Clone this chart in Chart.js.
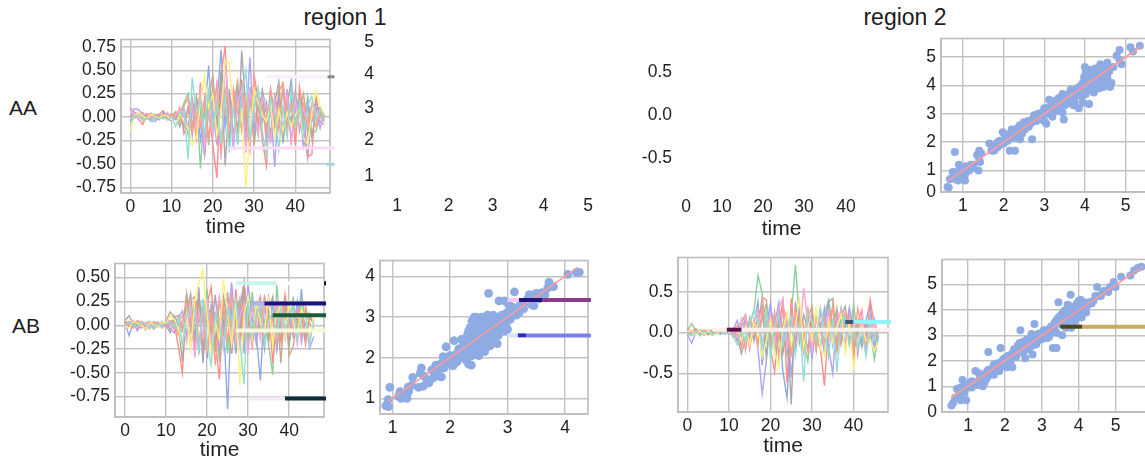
<!DOCTYPE html>
<html>
<head>
<meta charset="utf-8">
<script src="https://cdn.jsdelivr.net/npm/chart.js@4/dist/chart.umd.min.js"></script>
<style>
html, body { margin: 0; padding: 0; background: #fff; width: 1145px; height: 459px; overflow: hidden; }
canvas { position: absolute; }
.lbl { position: absolute; font-family: "Liberation Sans", Arial, sans-serif; color: #1c1c1c; transform: translate(-50%, -50%); white-space: nowrap; }
</style>
</head>
<body>
<div class="lbl" style="left:345px;top:17px;font-size:23px">region 1</div>
<div class="lbl" style="left:905px;top:17px;font-size:23px">region 2</div>
<div class="lbl" style="left:23px;top:108px;font-size:21px">AA</div>
<div class="lbl" style="left:26px;top:326px;font-size:21px">AB</div>
<script>
const times = [0,1,2,3,4,5,6,7,8,9,10,11,12,13,14,15,16,17,18,19,20,21,22,23,24,25,26,27,28,29,30,31,32,33,34,35,36,37,38,39,40,41,42,43,44,45,46,47];
const lineColors = ['#8fa8e8','#8ccf9a','#ff8d88','#b0a2fa','#a8a8a8','#c8a88c','#f8a8d8','#ff9f8a','#fff07a','#8fdfd6'];

// AA, region 1
const aa1 = [
 [.02,.05,.03,-.01,.02,-.02,.01,.00,.02,-.01,.01,-.03, .02,-.08,.10,-.12,.18,-.25,.05,.55,-.20,.15,.72,-.10, .30,-.22,.28,.10,-.18,.32,-.12,.20,-.05,.15,-.28,.22, .05,-.15,.12,.40,-.10,.18,-.12,-.44,.10,.15,.05,-.02],
 [.00,.03,.02,.00,-.02,.04,.01,.03,-.01,.02,-.02,.05, .02,.15,.25,-.10,.20,-.55,.12,-.30,.22,-.05,.18,.30, -.25,.10,-.12,.25,-.30,.15,.05,-.20,.28,.05,-.18,.22, -.08,.30,-.12,.15,.05,.25,-.10,.22,-.18,-.15,.02,-.05],
 [.10,.03,-.02,-.08,.02,.04,-.02,.03,.07,-.01,.03,.00, .10,-.18,-.08,.12,-.22,.37,-.42,.10,-.30,-.65,.45,.76, -.30,.28,-.20,.40,-.05,-.35,.45,.18,-.25,-.52,.30,-.10, .28,.36,-.18,.22,-.30,.32,.05,-.42,-.40,.22,-.05,-.08],
 [.00,.09,.08,.03,-.02,-.03,-.05,.00,.02,-.03,.02,-.01, .04,.10,-.15,.05,.18,-.08,-.40,.25,.10,-.30,.35,-.12, .18,-.35,.30,.12,-.08,.64,-.22,.10,.25,-.30,.12,-.53, .22,-.18,.30,-.25,.08,.18,-.35,.15,-.05,.10,-.12,.04],
 [-.05,.02,.04,.00,.03,-.02,.02,-.03,.05,-.02,-.04,.02, -.10,.05,-.18,.20,-.05,.12,-.25,.08,.30,-.15,.50,-.52, .22,.10,-.28,.71,.10,-.22,.35,-.10,.28,.05,-.20,.15, .38,-.28,.10,-.05,.28,-.15,.05,.12,-.22,.08,.10,.00],
 [.04,-.01,.02,.05,-.02,.00,.03,.01,-.02,.04,.00,.06, .02,-.12,.10,-.20,.22,.05,-.28,.18,.45,-.10,.25,.10, -.22,.12,.38,-.15,.05,.25,-.30,.10,.20,-.12,.30,-.05, .12,-.20,.18,.30,-.10,.05,.25,-.18,.10,-.02,.04,-.03],
 [.03,.05,-.03,.02,.04,-.01,.02,-.02,.01,.05,-.03,.02, .08,.02,-.15,.15,-.10,.30,-.35,.05,-.20,.40,-.45,.60, .10,-.25,.15,.30,-.38,.28,.05,-.18,.22,.10,-.25,.18, -.12,.05,.22,-.30,.20,-.12,.10,-.08,.15,.05,-.02,.03],
 [-.02,.01,.03,-.03,.01,.03,-.02,.02,.00,-.02,.04,.00, -.05,.12,.20,-.15,.12,-.10,.20,-.22,.15,.32,-.38,.28, -.15,.30,.05,-.12,.20,-.28,.42,-.05,.10,-.20,.28,.05, -.15,.38,-.05,.12,-.18,.10,.15,-.05,.08,-.10,.06,.02],
 [-.14,.02,.04,.01,-.02,.03,.00,-.01,.02,.01,-.02,-.08, .03,-.05,-.12,-.30,-.22,.15,.43,.10,.25,-.20,.05,.60, .58,.05,-.25,.10,-.75,-.18,.30,.15,.02,-.05,.12,-.22, .08,-.15,.05,-.10,.02,.10,-.22,-.30,.05,.27,.12,.03],
 [-.07,.01,.02,-.04,-.01,-.05,.01,-.02,.00,-.03,.01,-.10, .00,.08,-.45,.42,.05,.18,-.20,.32,-.10,.15,-.28,.25, -.38,.12,-.30,.22,.50,-.25,.10,.32,-.15,-.42,.20,.05, -.35,.12,-.22,.28,-.10,.15,-.18,.12,.22,-.05,.08,-.02]
];
// AB, region 1
const ab1 = [
 [.03,-.11,.02,.04,-.03,.02,-.02,.01,.03,-.01,.02,-.04, -.08,.05,.10,-.15,.18,-.20,.08,.22,-.35,.12,-.18,.25, .05,-.88,.22,-.30,.18,.45,-.20,.30,-.10,-.58,.25,-.12, .18,-.25,.10,.28,-.18,.12,-.08,.38,-.15,.10,.02],
 [.02,.04,-.02,.03,.00,-.03,.02,-.04,.01,.02,-.01,.03, .05,-.10,-.05,.12,-.20,.18,.30,.05,.38,-.25,.10,-.38, .20,-.30,.32,.12,-.15,.20,-.25,.35,-.08,.15,.05,-.20, -.52,.43,-.10,.20,-.22,.30,-.12,.28,.05,-.15,.05],
 [.04,.02,.05,-.03,.04,.01,-.02,.03,.00,.02,.03,.05, .02,-.22,-.50,.32,.05,-.28,.28,-.35,.22,.40,-.15,-.57, .25,.12,-.30,.38,-.05,.45,.10,-.22,.15,.30,-.12,.25, -.40,.10,-.18,.32,.05,-.12,.22,.10,-.20,.12,.00],
 [.02,.01,.03,-.06,.02,-.04,.03,.00,-.02,.04,-.01,.02, -.03,.08,.15,-.10,.20,.05,-.28,.12,-.30,.22,.10,-.25, .30,.05,.45,-.12,.20,-.30,.42,.08,-.20,.18,-.10,.30, .12,-.25,.20,-.05,.15,-.10,.25,-.18,.05,-.24,-.12],
 [.05,.10,.02,.00,.03,-.05,.02,.03,-.02,.01,.00,-.08, .10,.02,-.38,.15,.33,-.15,.40,-.40,.22,-.08,.32,-.15, .28,.10,-.30,.22,-.12,.35,.05,-.18,.20,.10,-.25,.15, .30,-.10,.05,.18,-.20,.12,.05,-.08,.15,.02,-.06],
 [.03,-.02,.04,.01,-.03,.02,.04,-.01,.02,-.03,.04,.14, .08,.10,-.05,.33,-.05,.28,.12,-.22,.10,.18,-.28,.30, -.12,.35,-.20,.05,.28,-.15,.12,-.05,.22,-.10,.32,-.18, .10,.20,-.40,.28,-.32,-.22,.05,.12,-.10,.08,.02],
 [.01,.03,.05,.02,-.02,.03,-.01,.04,.02,-.02,.03,.01, -.05,.06,.10,-.18,.22,-.34,.15,-.12,.28,-.20,.05,.30, -.25,.15,.28,-.18,.10,.22,-.30,.18,.05,-.15,.22,.08, -.12,.25,.05,-.15,.18,.10,-.20,.12,.05,-.10,.03],
 [-.02,.02,-.03,.05,.02,.00,-.04,.02,.03,.01,-.03,.03, .02,-.10,.05,.12,.26,.30,-.20,.18,-.30,.12,-.42,.05, .22,-.18,.30,.10,-.22,.15,.25,-.12,.08,.20,-.15,.10, .05,-.18,.22,.12,-.10,.05,.15,-.12,.20,.02,-.04],
 [-.01,-.03,.04,.02,.00,-.04,.03,.01,-.02,.03,.02,.10, .06,-.03,-.22,.12,-.25,.25,.45,.58,.10,-.30,.05,-.15, .48,.12,-.20,.25,-.63,.10,.30,-.15,.22,.05,-.08,.30, -.22,.12,.20,-.12,.25,.02,-.10,.18,.05,-.12,.08],
 [.00,.03,.01,-.02,.03,.01,-.03,.00,.02,-.01,.02,.04, -.02,.07,-.20,.10,.18,.15,-.30,.28,-.20,-.42,.10,.02, -.25,.18,.05,.28,-.15,-.62,.25,-.10,.12,.22,-.20,.05, .15,-.12,.18,-.08,.10,.22,-.15,.05,.12,-.20,.04]
];
// AB, region 2
const ab2 = [
 [-.05,.02,.04,-.03,.02,-.01,.03,.00,-.02,.03,.01,.02, -.10,.08,.15,-.12,.10,.38,-.40,.10,.36,-.22,.15,-.48, -.80,.20,-.15,.30,-.10,.25,-.32,.18,.05,-.25,.30,-.15, .20,-.08,.22,.05,-.18,.12,-.10,.15,.36,-.12,.02],
 [.02,.11,.03,-.04,.02,.00,-.02,.02,.03,-.01,.02,.01, .04,-.05,.08,.10,.25,.70,.48,-.10,.15,-.22,.30,.05, -.28,.20,.83,.15,-.12,-.35,.18,.05,-.18,.22,.40,.05, -.20,.30,.10,-.15,.35,-.05,.12,-.22,.05,-.33,-.05],
 [.06,-.02,.05,.00,-.03,.03,.02,-.02,.04,.00,.03,-.02, .02,-.18,.12,-.20,.15,.05,.43,.40,-.20,-.48,.10,.38, -.62,.42,-.15,.30,.08,-.22,.25,-.10,-.18,-.65,.12,.30, -.22,.15,.05,.30,-.30,.12,.28,-.18,.40,.10,-.05],
 [-.02,-.13,.00,.02,-.03,.02,.01,-.02,.02,.00,-.02,.04, .15,-.10,.20,-.05,.10,-.20,-.75,-.35,.30,.10,.37,-.15, .20,-.55,.12,.28,-.18,.10,-.30,.22,.05,.30,-.18,-.50, .25,.10,-.15,.30,.05,-.28,.12,-.05,.22,-.20,.03],
 [.03,.01,-.02,.03,.02,-.02,.00,.03,-.01,.02,.01,.03, -.05,-.26,-.08,.18,-.10,.22,.32,-.30,.12,-.05,.18,-.25, .10,-.88,.38,-.12,.22,.05,.15,-.22,.28,.10,.38,.42, -.15,.20,.32,-.10,.15,.05,-.18,.12,-.10,.05,-.06],
 [.01,-.03,.04,.00,.02,-.03,.02,.01,-.01,.03,.00,.05, .08,.12,.22,-.15,.05,-.10,.18,.35,-.12,.25,-.30,.10, .22,-.20,.15,.05,-.25,.18,.32,-.15,.10,-.12,.20,.05, .30,-.15,.10,.18,-.22,.08,.12,-.10,.15,-.05,.02],
 [.04,-.01,.02,.03,-.02,.01,.04,.00,.02,-.02,.03,.02, -.06,.18,.20,-.18,.12,.28,-.12,.05,.22,-.15,.30,.42, -.20,.10,.18,-.05,.55,.10,-.22,.15,.05,-.18,.25,-.10, .12,.28,-.20,.15,.10,-.15,.22,-.25,.05,.18,-.04],
 [-.03,.02,.00,-.02,.03,.02,-.03,.02,.00,.01,.02,-.06, -.02,.10,-.22,.15,.08,-.15,.30,.10,-.25,.20,-.10,.30, .18,-.30,.25,.05,-.15,.30,.10,-.20,.22,.15,-.08,.35, -.15,.10,.25,.12,-.20,.30,.05,-.12,.20,-.08,.01],
 [.01,.03,-.03,.02,-.02,.03,-.03,-.02,.03,.01,.00,.02, .05,-.10,.08,-.15,.12,.05,-.30,-.10,.15,-.25,-.42,.05, .22,-.15,.10,.40,-.18,.12,-.08,.30,-.20,-.28,.15,-.12, .05,.22,-.25,.12,-.42,-.15,.10,-.10,-.08,-.22,-.12],
 [.00,-.04,.02,-.02,.01,.00,-.03,.01,.02,-.02,.03,-.04, -.15,.05,-.12,.12,.28,.15,-.20,.30,-.32,.10,.20,-.15, .05,.20,-.28,.12,-.60,.25,.15,-.10,.30,.05,-.30,.18, -.48,.12,.20,-.15,.10,-.20,.05,-.30,.18,-.10,.03]
];

const scatterAB1 = [[.88,.82],[.93,.8],[.92,.97],[.95,1.27],[1.1,1.05],[1.13,1.17],[1.15,1.0],[1.25,1.0],[1.25,1.12],[1.27,1.28],[1.28,1.18],[1.33,1.32],[1.35,1.52],[1.45,1.27],[1.48,1.62],[1.5,1.75],[1.53,1.3],[1.55,1.55],[1.6,1.45],[1.63,1.38],[1.68,1.7],[1.7,1.5],[1.73,1.62],[1.75,1.82],[1.78,1.55],[1.8,1.7],[1.85,1.53],[1.85,1.87],[1.88,2.03],[1.9,1.75],[1.93,2.27],[1.95,1.85],[2.0,2.05],[2.02,1.92],[2.05,1.8],[2.07,2.42],[2.1,2.08],[2.12,1.9],[2.15,2.22],[2.17,2.0],[2.2,2.45],[2.22,2.12],[2.25,2.3],[2.27,1.95],[2.3,2.55],[2.3,2.2],[2.32,1.85],[2.35,2.4],[2.37,1.82],[2.35,2.75],[2.38,2.05],[2.4,2.6],[2.4,2.25],[2.42,3.0],[2.42,2.85],[2.45,2.45],[2.45,2.1],[2.48,2.7],[2.5,2.3],[2.5,2.9],[2.52,2.55],[2.5,2.05],[2.55,2.2],[2.55,2.75],[2.55,3.0],[2.6,2.45],[2.6,2.9],[2.62,2.65],[2.63,2.25],[2.65,3.05],[2.67,3.58],[2.68,2.85],[2.7,2.5],[2.7,2.3],[2.72,2.7],[2.75,2.95],[2.75,3.05],[2.78,2.55],[2.8,2.8],[2.82,2.35],[2.85,2.95],[2.85,3.4],[2.88,2.65],[2.9,3.05],[2.92,2.8],[2.95,3.4],[2.95,3.0],[3.0,2.7],[3.02,3.3],[3.0,2.9],[3.05,3.1],[3.08,3.25],[3.1,3.05],[3.12,3.62],[3.15,3.2],[3.2,3.1],[3.22,3.3],[3.28,3.2],[3.3,3.35],[3.35,3.45],[3.38,3.55],[3.42,3.3],[3.46,3.28],[3.45,3.5],[3.5,3.58],[3.55,3.45],[3.6,3.6],[3.65,3.55],[3.7,3.72],[3.72,3.85],[3.8,3.75],[4.05,4.05],[4.2,4.1],[4.25,4.1],[2.28,2.4],[2.35,2.6],[2.45,2.65],[2.55,2.5],[2.6,2.7],[2.65,2.55],[2.72,2.85],[2.5,2.8],[2.42,2.35],[2.58,2.95],[2.7,2.65],[2.8,2.65],[2.85,2.8],[2.65,2.4],[2.3,2.35],[2.32,2.65],[2.38,2.5],[2.38,2.9],[2.45,2.8],[2.45,3.0],[2.48,2.2],[2.52,2.4],[2.52,2.7],[2.58,2.35],[2.58,2.6],[2.62,2.8],[2.66,2.95],[2.68,2.65],[2.74,2.4],[2.76,2.62],[2.78,2.9],[2.82,3.0],[2.84,2.55],[2.88,2.85],[2.92,2.95],[2.95,2.65],[2.98,3.1],[2.22,2.3],[2.28,2.1],[2.4,2.15],[2.42,2.55],[2.5,2.45],[2.55,2.35],[2.6,2.15],[2.35,2.15],[2.45,2.2],[2.3,2.45],[2.62,3.0],[2.7,3.0],[2.75,2.75],[2.9,2.9],[3.05,2.95],[3.1,3.15],[3.15,3.05]];
const fitAB1 = [[.92,.93],[4.22,4.22]];
const scatterAA2 = [[.62,.42],[.65,.4],[.68,.7],[.75,.95],[.8,.7],[.8,1.65],[.85,.95],[.88,.65],[.9,1.2],[.95,.85],[1.0,1.05],[1.05,.65],[1.05,.85],[1.08,1.15],[1.15,1.0],[1.2,1.2],[1.25,1.2],[1.35,1.55],[1.38,1.0],[1.4,1.4],[1.4,1.7],[1.42,1.3],[1.45,1.6],[1.65,1.95],[1.7,1.7],[1.75,1.8],[1.8,1.85],[1.85,2.0],[1.9,1.9],[1.95,2.0],[1.98,2.35],[2.02,2.1],[2.05,2.2],[2.1,2.05],[2.15,1.7],[2.15,2.3],[2.2,2.45],[2.28,1.7],[2.25,2.15],[2.3,2.45],[2.35,2.35],[2.4,2.6],[2.4,2.1],[2.45,2.3],[2.5,2.7],[2.55,2.5],[2.6,2.75],[2.65,2.65],[2.7,2.1],[2.75,2.95],[2.8,2.75],[2.85,3.0],[2.9,2.95],[3.0,2.75],[3.0,3.2],[3.05,2.65],[3.1,3.0],[3.12,3.5],[3.15,3.25],[3.2,2.9],[3.25,3.45],[3.3,3.1],[3.35,3.55],[3.4,3.4],[3.45,3.05],[3.45,3.7],[3.5,3.3],[3.48,2.8],[3.6,3.7],[3.65,3.5],[3.65,3.85],[3.72,3.3],[3.75,3.4],[3.8,3.9],[3.85,3.65],[3.85,3.2],[3.9,4.0],[3.92,3.6],[3.95,3.4],[3.98,4.3],[4.0,3.9],[4.0,4.65],[4.02,3.7],[4.05,4.4],[4.08,4.15],[4.1,3.85],[4.1,3.35],[4.13,4.55],[4.15,4.0],[4.2,4.3],[4.22,3.75],[4.25,4.6],[4.28,4.1],[4.3,4.45],[4.35,3.9],[4.35,4.25],[4.38,4.75],[4.4,4.1],[4.42,4.4],[4.45,3.95],[4.5,4.6],[4.55,4.8],[4.55,4.3],[4.6,4.5],[4.62,3.95],[4.65,4.1],[4.7,4.65],[4.78,5.05],[4.85,5.25],[4.85,4.9],[4.9,4.75],[5.12,5.35],[5.18,5.2],[5.35,5.4],[1.75,1.7],[1.9,2.05],[2.2,2.25],[2.35,2.5],[2.55,2.65],[2.7,2.8],[2.95,3.05],[3.2,3.3],[3.55,3.55],[3.7,3.6],[3.9,3.8],[4.05,4.05],[4.2,4.1],[4.35,4.5],[1.72,1.78],[1.78,1.72],[1.85,1.82],[1.92,2.0],[2.0,1.95],[2.08,2.05],[2.12,2.2],[2.18,2.15],[2.25,2.35],[2.32,2.25],[2.38,2.45],[2.45,2.5],[2.52,2.45],[2.58,2.6],[2.62,2.55],[2.7,2.7],[2.78,2.85],[2.85,2.8],[2.92,2.8],[3.0,3.0],[3.05,3.2],[3.15,3.1],[3.22,3.15],[3.28,3.3],[3.35,3.25],[3.42,3.25],[3.5,3.5],[3.55,3.35],[3.7,3.7],[3.75,3.6],[3.82,3.75],[3.88,3.8],[3.95,4.1],[3.95,3.75],[4.0,4.2],[4.02,4.45],[4.05,3.95],[4.1,4.3],[4.12,4.0],[4.18,4.45],[4.2,3.9],[4.25,4.25],[4.3,3.95],[4.35,4.6],[4.4,4.25],[4.45,4.5],[4.5,4.15],[4.58,4.65],[.85,.8],[.95,1.0],[1.1,1.05],[1.0,.8],[1.25,1.1]];
const fitAA2 = [[.65,.65],[5.35,5.35]];
const scatterAB2 = [[.55,.25],[.6,.35],[.65,.55],[.7,.9],[.75,.65],[.8,.45],[.85,1.25],[.9,.75],[.95,.45],[.9,1.05],[1.05,1.0],[1.1,.95],[1.15,1.1],[1.2,1.6],[1.25,1.05],[1.3,1.25],[1.35,1.4],[1.4,1.0],[1.45,1.15],[1.5,1.3],[1.55,2.35],[1.6,1.55],[1.65,1.7],[1.7,1.45],[1.75,1.65],[1.8,1.9],[1.85,1.6],[1.88,2.5],[1.95,1.85],[2.0,2.1],[2.05,1.75],[2.1,2.0],[2.15,2.2],[2.2,1.75],[2.25,2.45],[2.3,2.15],[2.35,2.6],[2.4,2.7],[2.42,3.2],[2.45,2.35],[2.5,2.75],[2.55,2.1],[2.6,2.85],[2.65,2.45],[2.72,3.05],[2.75,2.25],[2.8,3.45],[2.85,2.65],[2.9,3.05],[3.0,2.85],[3.05,3.2],[3.15,3.15],[3.2,2.95],[3.25,3.35],[3.3,2.5],[3.35,3.5],[3.4,3.1],[3.4,2.5],[3.45,3.7],[3.45,4.3],[3.5,3.45],[3.55,3.85],[3.55,3.0],[3.6,3.6],[3.65,4.0],[3.65,3.3],[3.7,4.2],[3.72,3.6],[3.75,3.9],[3.78,4.6],[3.8,3.3],[3.85,3.75],[3.88,4.1],[3.9,3.55],[3.95,4.25],[4.0,3.85],[4.05,4.4],[4.08,3.7],[4.1,4.05],[4.15,4.15],[4.2,3.9],[4.3,4.3],[4.4,4.35],[4.5,4.9],[4.55,4.55],[4.7,4.75],[4.8,4.7],[4.85,4.9],[4.95,5.1],[5.0,4.9],[5.15,5.3],[5.4,5.35],[5.5,5.55],[5.6,5.65],[5.7,5.7],[1.3,1.5],[1.55,1.65],[1.7,1.85],[1.9,1.95],[2.15,2.05],[2.3,2.45],[2.5,2.5],[2.65,2.7],[2.8,2.8],[3.1,3.0],[3.25,3.1],[3.5,3.65],[3.8,3.85],[3.95,3.95],[.75,.85],[.8,.95],[1.0,.95],[1.05,1.15],[1.1,1.2],[1.2,1.1],[1.3,1.1],[1.35,1.25],[1.4,1.25],[1.45,1.35],[1.5,1.55],[1.55,1.4],[1.6,1.65],[1.65,1.5],[1.7,1.65],[1.75,1.8],[1.8,1.7],[1.85,1.85],[1.9,1.8],[1.95,2.05],[2.0,1.95],[2.05,2.15],[2.1,2.2],[2.15,1.95],[2.2,2.3],[2.25,2.2],[2.3,2.35],[2.35,2.3],[2.4,2.5],[2.45,2.55],[2.5,2.35],[2.55,2.6],[2.6,2.5],[2.65,2.55],[2.7,2.8],[2.75,2.6],[2.8,2.65],[2.85,2.9],[2.9,2.8],[2.95,3.0],[3.0,3.1],[3.05,2.95],[3.1,3.2],[3.15,2.9],[3.2,3.25],[3.3,3.3],[3.35,3.2],[3.4,3.6],[3.45,3.55],[3.5,3.75],[3.55,3.55],[3.6,3.95],[3.65,3.75],[3.7,3.55],[3.7,3.95],[3.75,4.15],[3.8,3.7],[3.85,4.0],[3.9,3.75],[3.95,4.05],[4.0,4.35],[4.05,4.05],[4.1,3.85],[4.15,4.3],[4.2,4.1],[4.25,4.2],[4.35,4.25],[4.45,4.55],[4.6,4.55],[4.65,4.7]];
const fitAB2 = [[.55,.57],[5.75,5.72]];

// stray pixel bars: [xStart, xEnd, y]
const barsAA1 = [[33,47.8,.43],[47.8,49.5,.43],[23.5,49.5,-.331],[47.5,49.5,-.505]];
const barColorsAA1 = ['#fbeefe','#888888','#ffd9f6','#9fd8d8'];
const barsAB1 = [[27,37,.44],[37,48.5,.44],[48.5,49,.44],[31,34,.229],[34,49,.229],[36,49,.104],[27,49,-.055],[30,39,-.77],[39,49,-.77]];
const barColorsAB1 = ['#c4f5ee','#fdfdfd','#111111','#a8b4f0','#1c1284','#1d5c38','#f8f8d8','#f3eaf3','#0f2b3a'];
const barsAB1b = [[3.0,3.2,3.42],[3.2,3.6,3.42],[3.6,4.45,3.42],[3.0,3.18,2.55],[3.18,3.33,2.55],[3.33,4.45,2.55]];
const barColorsAB1b = ['#fbc8f4','#26107a','#8c3a8c','#cfe4ff','#2a2ad8','#7c7cf2'];
const barsAB2 = [[6,49,.036],[9.5,13,.036],[38,40,.13],[40,49,.13]];
const barColorsAB2 = ['#fbf0f0','#5e0f4e','#3c5a78','#8ff4f6'];
const barsAB2b = [[3.5,4.1,3.34],[4.1,6,3.34]];
const barColorsAB2b = ['#4e4420','#cba95e'];

const xTicksTime = [0,10,20,30,40];
const xLabelsTime = ['0','10','20','30','40'];
const ticks1to5 = [1,2,3,4,5];
const labels1to5 = ['1','2','3','4','5'];
const yTicks25 = [-.75,-.5,-.25,0,.25,.5,.75];
const yLabels25 = ['-0.75','-0.50','-0.25','0.00','0.25','0.50','0.75'];
const yTicks5 = [-.5,0,.5];
const yLabels5 = ['-0.5','0.0','0.5'];

const TICK_FONT = { family: '"Liberation Sans", Arial, sans-serif', size: 17.5 };
const TITLE_FONT = { family: '"Liberation Sans", Arial, sans-serif', size: 21 };
const INK = '#222';
const GRID = '#c2c2c2';
const DOT = '#8fabe3';
const FIT = '#ff9a9a';
const M = { l: 56, t: 14, r: 20, b: 44 };

const frame = {
    id: 'frame',
    beforeDatasetsDraw: function (chart, args, o) {
        if (!o.show) return;
        var a = chart.chartArea, ctx = chart.ctx;
        ctx.save();
        ctx.strokeStyle = '#bdbdbd';
        ctx.lineWidth = 1.6;
        ctx.strokeRect(a.left, a.top, a.right - a.left, a.bottom - a.top);
        ctx.restore();
    }
};

function lineSets(rows) {
    return rows.map(function (row, i) {
        return { data: row.map(function (v, j) { return { x: times[j], y: v }; }),
                 showLine: true, borderColor: lineColors[i], borderWidth: 1.4, pointRadius: 0, order: -i, tension: 0 };
    });
}
function barSets(bars, colors, width) {
    return bars.map(function (b, i) {
        return { data: [{ x: b[0], y: b[2] }, { x: b[1], y: b[2] }], showLine: true, borderColor: colors[i],
                 borderWidth: width, pointRadius: 0, clip: false, order: -100 - i };
    });
}
function dotSets(points, fit, radius) {
    return [
        { data: points.map(function (p) { return { x: p[0], y: p[1] }; }), pointRadius: radius, pointBackgroundColor: DOT, pointBorderWidth: 0, showLine: false, order: 0 },
        { data: fit.map(function (p) { return { x: p[0], y: p[1] }; }), showLine: true, borderColor: FIT, borderWidth: 1.6, pointRadius: 0, order: -1 }
    ];
}

function panel(box, range, xTicks, xLabels, yTicks, yLabels, datasets, opts) {
    opts = opts || {};
    var xh = opts.time || M.b;
    var c = document.createElement('canvas');
    c.width = box.r - box.l + M.l + M.r;
    c.height = box.b - box.t + M.t + xh;
    c.style.left = (box.l - M.l) + 'px';
    c.style.top = (box.t - M.t) + 'px';
    document.body.appendChild(c);
    var grid = opts.bare ? { display: false, drawTicks: false } : { color: GRID, lineWidth: 1.4, drawTicks: false };
    var border = opts.bare ? { display: false } : { color: '#bdbdbd', width: 1.6 };
    new Chart(c.getContext('2d'), {
        type: 'scatter',
        data: { datasets: datasets },
        plugins: [frame],
        options: {
            animation: false,
            responsive: false,
            layout: { padding: { left: 0, top: M.t, right: M.r, bottom: 0 } },
            plugins: { legend: { display: false }, tooltip: { enabled: false }, frame: { show: !opts.bare } },
            scales: {
                x: {
                    type: 'linear', min: range[0], max: range[1], grid: grid, border: border,
                    title: { display: !!opts.time, text: 'time', color: INK, font: TITLE_FONT, padding: 0 },
                    ticks: { color: INK, font: TICK_FONT, padding: 4, autoSkip: false, maxRotation: 0,
                        callback: function (v, i) { return xLabels[i]; } },
                    afterBuildTicks: function (s) { s.ticks = xTicks.map(function (v) { return { value: v }; }); },
                    afterFit: function (s) { s.height = xh; }
                },
                y: {
                    type: 'linear', min: range[2], max: range[3], grid: grid, border: border,
                    ticks: { color: INK, font: TICK_FONT, padding: 5, autoSkip: false,
                        callback: function (v, i) { return yLabels[i]; } },
                    afterBuildTicks: function (s) { s.ticks = yTicks.map(function (v) { return { value: v }; }); },
                    afterFit: function (s) { s.width = M.l; }
                }
            }
        }
    });
}

// top row
panel({ l: 121, t: 38, r: 330, b: 193 }, [-2.25, 48.4, -.812, .829], xTicksTime, xLabelsTime, yTicks25, yLabels25,
    lineSets(aa1).concat(barSets(barsAA1, barColorsAA1, 3)), { time: 47 });
panel({ l: 379, t: 37, r: 590, b: 192 }, [.623, 5.04, .526, 5.12], [1, 2.08, 3, 4.07, 5], labels1to5, [1, 2.07, 3.04, 4.05, 5], labels1to5,
    [], { bare: true });
panel({ l: 677, t: 38, r: 886, b: 193 }, [-2.25, 50, -.908, .874], [0, 9, 19.25, 29.5, 40], xLabelsTime, yTicks5, yLabels5,
    [], { bare: true, time: 49 });
panel({ l: 941, t: 37, r: 1150, b: 192 }, [.46, 5.6, .24, 5.66], ticks1to5, labels1to5, [.25, 1, 2, 3, 4, 5], ['0', '1', '2', '3', '4', '5'],
    dotSets(scatterAA2, fitAA2, 4));
// bottom row
panel({ l: 115, t: 262, r: 324, b: 417 }, [-2.44, 48.5, -.964, .648], xTicksTime, xLabelsTime, yTicks25.slice(0, 6), yLabels25.slice(0, 6),
    lineSets(ab1).concat(barSets(barsAB1, barColorsAB1, 4)), { time: 46 });
panel({ l: 380, t: 259, r: 588, b: 414 }, [.78, 4.4, .618, 4.39], [1, 2, 3, 4], labels1to5, [1, 2, 3, 4], labels1to5,
    dotSets(scatterAB1, fitAB1, 4.4).concat(barSets(barsAB1b, barColorsAB1b, 4)));
panel({ l: 678, t: 256, r: 888, b: 412 }, [-2.27, 48.3, -.972, .92], xTicksTime, xLabelsTime, yTicks5, yLabels5,
    lineSets(ab2).concat(barSets(barsAB2, barColorsAB2, 4)), { time: 47 });
panel({ l: 942, t: 258, r: 1151, b: 412 }, [.294, 5.96, -.01, 5.98], ticks1to5, labels1to5, [0, 1, 2, 3, 4, 5], ['0', '1', '2', '3', '4', '5'],
    dotSets(scatterAB2, fitAB2, 4).concat(barSets(barsAB2b, barColorsAB2b, 4)));
</script>
</body>
</html>
